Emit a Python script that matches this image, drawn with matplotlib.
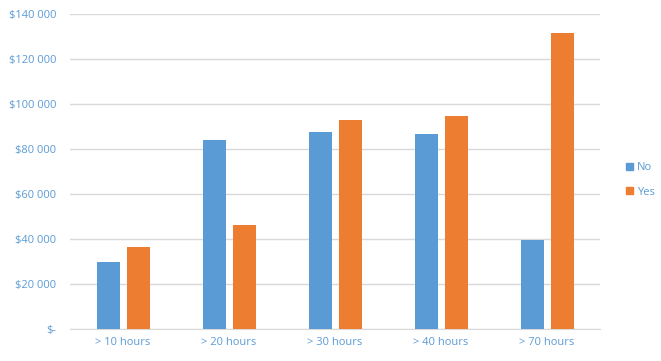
import numpy as np
import matplotlib.pyplot as plt
from matplotlib.ticker import FuncFormatter
from matplotlib.patches import Patch

categories = ['> 10 hours', '> 20 hours', '> 30 hours', '> 40 hours', '> 70 hours']
no_values = [30000, 84000, 87700, 86800, 39700]
yes_values = [36600, 46300, 93000, 94800, 131600]

blue = '#5B9BD5'
orange = '#ED7D31'
text_color = '#5B9BD5'
plt.rcParams['font.family'] = ['Open Sans', 'DejaVu Sans']

fig = plt.figure(figsize=(6.61, 3.61), dpi=100)
ax = fig.add_axes([70 / 661, 1 - 329 / 361, 530 / 661, 315 / 361])

x = np.arange(len(categories))
w = 0.22
ax.bar(x - 0.14, no_values, w, color=blue, zorder=3)
ax.bar(x + 0.145, yes_values, w, color=orange, zorder=3)

ax.set_xlim(-0.5, len(categories) - 0.5)
ax.set_ylim(0, 140000)
ax.set_yticks(np.arange(0, 140001, 20000))
ax.yaxis.set_major_formatter(FuncFormatter(
    lambda v, p: '$-' if v == 0 else '$' + f'{int(v):,}'.replace(',', ' ')))
ax.set_xticks(x)
ax.set_xticklabels(categories)
ax.grid(axis='y', color='#D9D9D9', linewidth=1, zorder=0)
for s in ['top', 'right', 'left']:
    ax.spines[s].set_visible(False)
ax.spines['bottom'].set_color('#D9D9D9')
ax.tick_params(length=0, colors=text_color, labelsize=8)
ax.tick_params(axis='y', pad=10)
ax.tick_params(axis='x', pad=6)

handles = [Patch(color=blue), Patch(color=orange)]
leg = fig.legend(handles, ['No', 'Yes'], loc='center left', bbox_to_anchor=(616 / 661, 1 - 180 / 361),
                 frameon=False, fontsize=8, handlelength=0.6, handleheight=0.6,
                 handletextpad=0.4, labelspacing=1.2)
for t in leg.get_texts():
    t.set_color(text_color)

fig.savefig('out.png', dpi=100)
